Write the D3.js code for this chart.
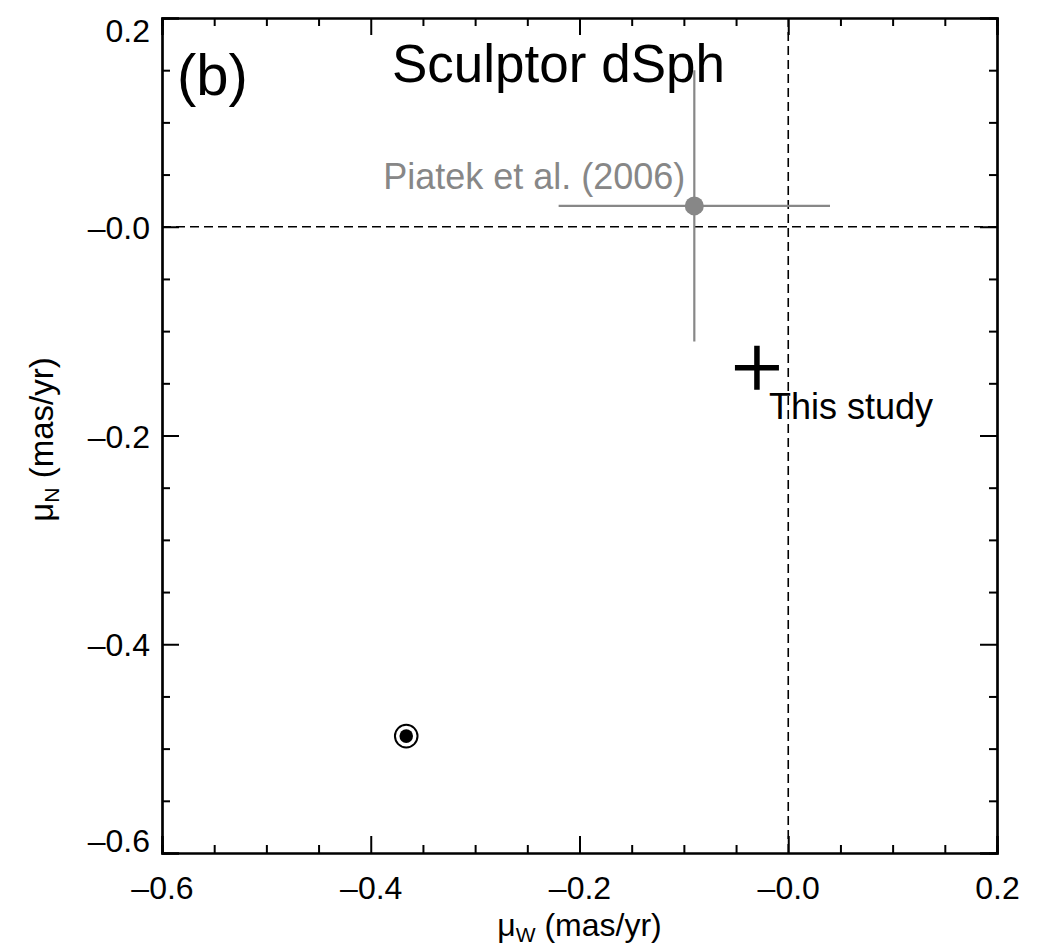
<!DOCTYPE html>
<html>
<head>
<meta charset="utf-8">
<script src="https://cdn.jsdelivr.net/npm/d3@7"></script>
<style>
  body { margin: 0; background: #fff; }
  svg { display: block; font-family: "Liberation Sans", Arial, Helvetica, sans-serif; }
</style>
</head>
<body>
<svg id="chart" width="1044" height="945"></svg>
<script>
// data
const majorTicks = [-0.6, -0.4, -0.2, 0.0, 0.2];
const minorTicks = [-0.55, -0.5, -0.45, -0.35, -0.3, -0.25, -0.15, -0.1, -0.05, 0.05, 0.1, 0.15];
const piatek = { x: -0.09, y: 0.02, ex: 0.13, ey: 0.13, label: "Piatek et al. (2006)" };
const thisStudy = { x: -0.030, y: -0.135, label: "This study" };
const sun = { x: -0.366, y: -0.488 };

const svg = d3.select("#chart");
const margin = { top: 18, right: 47, bottom: 92, left: 162 };
const width = 1044 - margin.left - margin.right;
const height = 945 - margin.top - margin.bottom;

const x = d3.scaleLinear().domain([-0.6, 0.2]).range([margin.left, margin.left + width]);
const y = d3.scaleLinear().domain([-0.6, 0.2]).range([margin.top + height, margin.top]);

const fmt = v => (v < 0.001 ? "\u2013" : "") + Math.abs(v).toFixed(1);

// zero lines
svg.append("line")
    .attr("x1", x(-0.6)).attr("x2", x(0.2)).attr("y1", y(0)).attr("y2", y(0))
    .attr("stroke", "#000").attr("stroke-width", 1.6).attr("stroke-dasharray", "9,5");
svg.append("line")
    .attr("x1", x(0)).attr("x2", x(0)).attr("y1", y(-0.6)).attr("y2", y(0.2))
    .attr("stroke", "#000").attr("stroke-width", 1.6).attr("stroke-dasharray", "9,5");

// axes, ticks pointing inward
function drawAxis(axisFn, scale, transform, labels) {
    const g = svg.append("g").attr("transform", transform);
    g.call(axisFn(scale).tickValues(minorTicks).tickSize(-8).tickFormat(""));
    const gm = svg.append("g").attr("transform", transform);
    gm.call(axisFn(scale).tickValues(majorTicks).tickSize(-17)
        .tickPadding(labels ? labels : 0).tickFormat(labels ? fmt : ""));
    [g, gm].forEach(s => {
        s.selectAll("path, line").attr("stroke", "#000").attr("stroke-width", 2);
        s.select(".domain").attr("stroke-width", 2.2);
    });
    gm.selectAll("text").attr("fill", "#000").style("font-size", "32px")
        .style("font-family", "'Liberation Sans', Arial, sans-serif");
    return gm;
}
drawAxis(d3.axisBottom, x, `translate(0,${y(-0.6)})`, 23);
drawAxis(d3.axisTop, x, `translate(0,${y(0.2)})`, 0);
const yl = drawAxis(d3.axisLeft, y, `translate(${x(-0.6)},0)`, 12);
drawAxis(d3.axisRight, y, `translate(${x(0.2)},0)`, 0);

// end labels of the y axis are nudged inward (as in the original)
yl.selectAll(".tick text").attr("dy", d => d === 0.2 ? "0.72em" : d === -0.6 ? "-0.05em" : "0.36em");

// axis titles
const xt = svg.append("text").attr("x", x(-0.2)).attr("y", 936)
    .attr("text-anchor", "middle").style("font-size", "32px");
xt.append("tspan").text("\u03bc");
xt.append("tspan").attr("dy", 6).style("font-size", "21px").text("W");
xt.append("tspan").attr("dy", -6).text(" (mas/yr)");

const yt = svg.append("text").attr("transform", `translate(53,${y(-0.2) + 4}) rotate(-90)`)
    .attr("text-anchor", "middle").style("font-size", "33px");
yt.append("tspan").text("\u03bc");
yt.append("tspan").attr("dy", 6).style("font-size", "21px").text("N");
yt.append("tspan").attr("dy", -6).text(" (mas/yr)");

// panel labels
svg.append("text").attr("x", 177).attr("y", 95).style("font-size", "58px").text("(b)");
svg.append("text").attr("x", 392).attr("y", 82).style("font-size", "53px").text("Sculptor dSph");

// Piatek et al. (2006) point with error bars
const grey = "#878787";
svg.append("line")
    .attr("x1", x(piatek.x - piatek.ex)).attr("x2", x(piatek.x + piatek.ex))
    .attr("y1", y(piatek.y)).attr("y2", y(piatek.y))
    .attr("stroke", grey).attr("stroke-width", 2.2);
svg.append("line")
    .attr("x1", x(piatek.x)).attr("x2", x(piatek.x))
    .attr("y1", y(piatek.y - piatek.ey)).attr("y2", y(piatek.y + piatek.ey))
    .attr("stroke", grey).attr("stroke-width", 2.2);
svg.append("circle").attr("cx", x(piatek.x)).attr("cy", y(piatek.y)).attr("r", 9.5).attr("fill", grey);
svg.append("text").attr("x", x(piatek.x) - 9).attr("y", y(piatek.y) - 17)
    .attr("text-anchor", "end").attr("fill", grey).style("font-size", "36px").text(piatek.label);

// this study
const cs = 22;
svg.append("path")
    .attr("d", `M${x(thisStudy.x) - cs},${y(thisStudy.y)}h${2 * cs}M${x(thisStudy.x)},${y(thisStudy.y) - cs}v${2 * cs}`)
    .attr("stroke", "#000").attr("stroke-width", 5.5).attr("fill", "none");
svg.append("text").attr("x", x(thisStudy.x) + 12).attr("y", y(thisStudy.y) + 51)
    .style("font-size", "36px").text(thisStudy.label);

// solar motion symbol
svg.append("circle").attr("cx", x(sun.x)).attr("cy", y(sun.y)).attr("r", 11.3)
    .attr("fill", "none").attr("stroke", "#000").attr("stroke-width", 2);
svg.append("circle").attr("cx", x(sun.x)).attr("cy", y(sun.y)).attr("r", 6.8).attr("fill", "#000");
</script>
</body>
</html>
